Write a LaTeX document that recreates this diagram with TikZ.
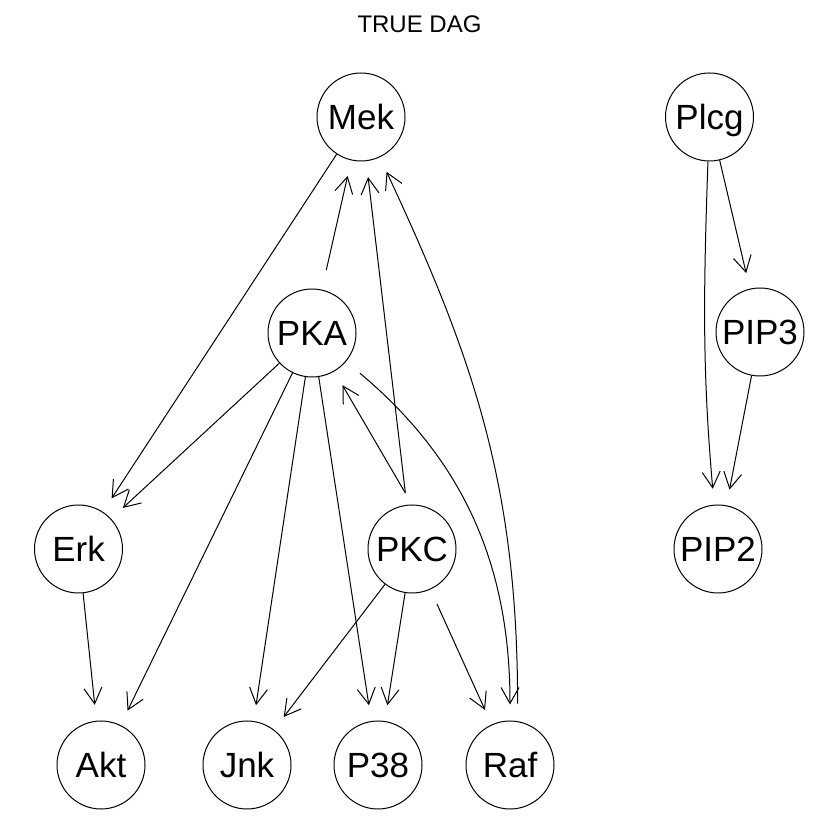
\documentclass[tikz,border=0pt]{standalone}
\usepackage{fontspec}
\setmainfont{Liberation Sans}
\usetikzlibrary{arrows.meta}

\begin{document}
\begin{tikzpicture}[x=1pt,y=1pt,
    prot/.style={circle,draw,line width=1pt,minimum size=88pt,inner sep=0pt,
      text height=25pt,text depth=0pt,font=\fontsize{35}{40}\selectfont},
    causal/.style={draw,-{Straight Barb[length=16pt,width=18pt]},line width=1pt,shorten >=16pt}]
        \useasboundingbox (0,0) rectangle (840,840);
        \node (title) at (419.5,815.5) {\fontsize{24}{28}\selectfont TRUE DAG};

        \node[prot] (Mek)  at (361,723)   {Mek};
        \node[prot] (Plcg) at (709.5,723) {Plcg};
        \node[prot] (PKA)  at (312,507)   {PKA};
        \node[prot] (PIP3) at (760,508)   {PIP3};
        \node[prot] (Erk)  at (78.5,291)  {Erk};
        \node[prot] (PKC)  at (412,291)   {PKC};
        \node[prot] (PIP2) at (718,291)   {PIP2};
        \node[prot] (Akt)  at (101,75)    {Akt};
        \node[prot] (Jnk)  at (247,75)    {Jnk};
        \node[prot] (P38)  at (378,75)    {P38};
        \node[prot] (Raf)  at (510,75)    {Raf};
        \coordinate (RafTop) at (517.6,136.3);

        \path (Mek) edge[causal] (Erk)
              (PKA) edge[causal] (Erk)
              (PKA) edge[causal, shorten <=20pt] (Mek)
              (PKC) edge[causal, shorten <=13pt] (Mek)
              (PKC.north) edge[causal, shorten <=13pt] (PKA)
              (RafTop) edge[causal, out=90, in=-65] (Mek)
              (PKA) edge[causal, shorten <=18pt, out=-40, in=90] (Raf)
              (PKA) edge[causal] (Akt)
              (PKA) edge[causal] (Jnk)
              (PKA) edge[causal] (P38)
              (PKC) edge[causal] (Jnk)
              (PKC) edge[causal] (P38)
              (PKC) edge[causal, shorten <=16pt] (Raf)
              (Erk) edge[causal] (Akt)
              (Plcg) edge[causal] (PIP3)
              (Plcg) edge[causal, out=-92, in=95] (PIP2)
              (PIP3) edge[causal] (PIP2);
\end{tikzpicture}
\end{document}
